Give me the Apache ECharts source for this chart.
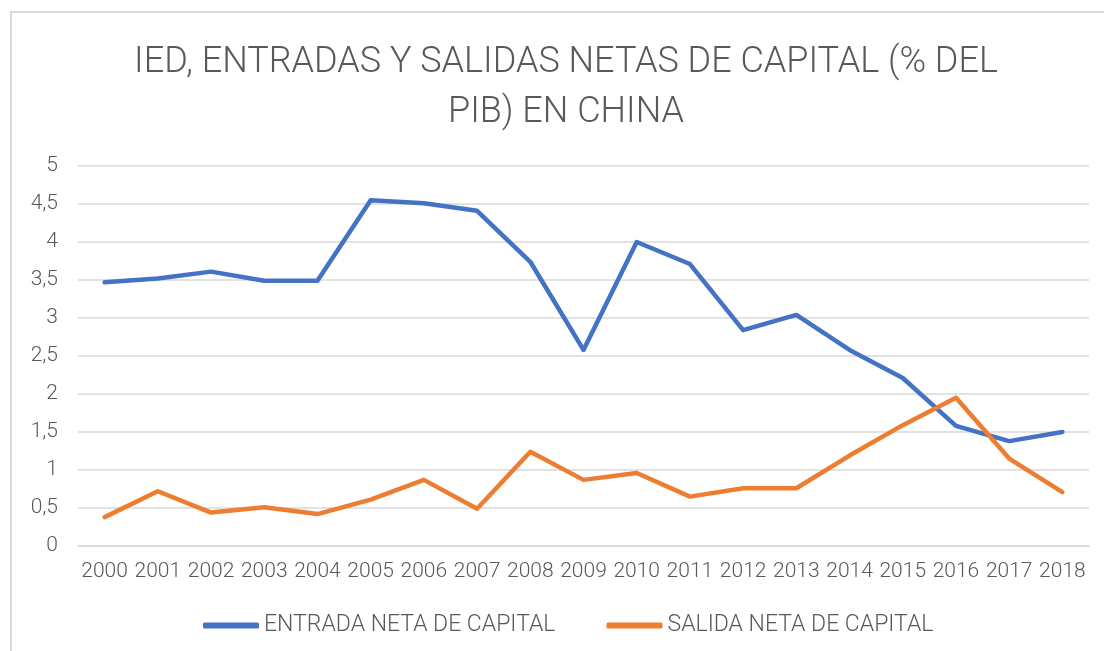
<!DOCTYPE html>
<html>
<head>
<meta charset="utf-8">
<script src="https://cdn.jsdelivr.net/npm/echarts@6/dist/echarts.min.js"></script>
<style>
  html, body { margin: 0; padding: 0; background: #fff; }
  #chart { width: 1104px; height: 651px; }
</style>
</head>
<body>
<div id="chart"></div>
<script>
const years = ["2000", "2001", "2002", "2003", "2004", "2005", "2006", "2007", "2008", "2009",
  "2010", "2011", "2012", "2013", "2014", "2015", "2016", "2017", "2018"];
const entrada = [3.47, 3.52, 3.61, 3.49, 3.49, 4.55, 4.51, 4.41, 3.74, 2.58,
  4.0, 3.71, 2.84, 3.04, 2.58, 2.21, 1.58, 1.38, 1.50];
const salida = [0.38, 0.72, 0.44, 0.51, 0.42, 0.61, 0.87, 0.49, 1.24, 0.87,
  0.96, 0.65, 0.76, 0.76, 1.19, 1.59, 1.95, 1.15, 0.71];

const font = "Roboto, sans-serif";
const grey = "#595959";

const chart = echarts.init(document.getElementById("chart"));
chart.setOption({
  animation: false,
  textStyle: { fontFamily: font, fontWeight: 300 },
  graphic: [{
    type: "rect",
    shape: { x: 11, y: 12, width: 1110, height: 660 },
    style: { fill: "none", stroke: "#d9d9d9", lineWidth: 2 },
    silent: true,
  }],
  title: {
    text: "IED, ENTRADAS Y SALIDAS NETAS DE CAPITAL (% DEL\nPIB) EN CHINA",
    left: 561,
    textAlign: "center",
    top: 33,
    textStyle: {
      fontFamily: font,
      fontWeight: 300,
      fontSize: 36,
      lineHeight: 50,
      color: grey,
    },
  },
  legend: {
    top: 609,
    left: 198,
    itemWidth: 56,
    itemHeight: 6,
    itemGap: 51,
    icon: "roundRect",
    textStyle: { fontSize: 23, fontWeight: 300, color: grey },
    data: ["ENTRADA NETA DE CAPITAL", "SALIDA NETA DE CAPITAL"],
  },
  grid: { left: 78, right: 15, top: 166, bottom: 105 },
  xAxis: {
    type: "category",
    data: years,
    boundaryGap: true,
    axisLine: { lineStyle: { color: "#d9d9d9", width: 1.5 } },
    axisTick: { show: false },
    axisLabel: { fontSize: 21, fontWeight: 300, color: grey, margin: 15, interval: 0 },
  },
  yAxis: {
    type: "value",
    min: 0,
    max: 5,
    interval: 0.5,
    axisLine: { show: false },
    axisTick: { show: false },
    splitLine: { lineStyle: { color: "#d9d9d9", width: 1.5 } },
    axisLabel: {
      fontSize: 21,
      fontWeight: 300,
      color: grey,
      margin: 20,
      formatter: (v) => String(v).replace(".", ","),
    },
  },
  series: [
    {
      name: "ENTRADA NETA DE CAPITAL",
      type: "line",
      data: entrada,
      symbol: "none",
      lineStyle: { color: "#4472C4", width: 4.5, cap: "round", join: "round" },
      itemStyle: { color: "#4472C4" },
    },
    {
      name: "SALIDA NETA DE CAPITAL",
      type: "line",
      data: salida,
      symbol: "none",
      lineStyle: { color: "#ED7D31", width: 4.5, cap: "round", join: "round" },
      itemStyle: { color: "#ED7D31" },
    },
  ],
});
</script>
</body>
</html>
